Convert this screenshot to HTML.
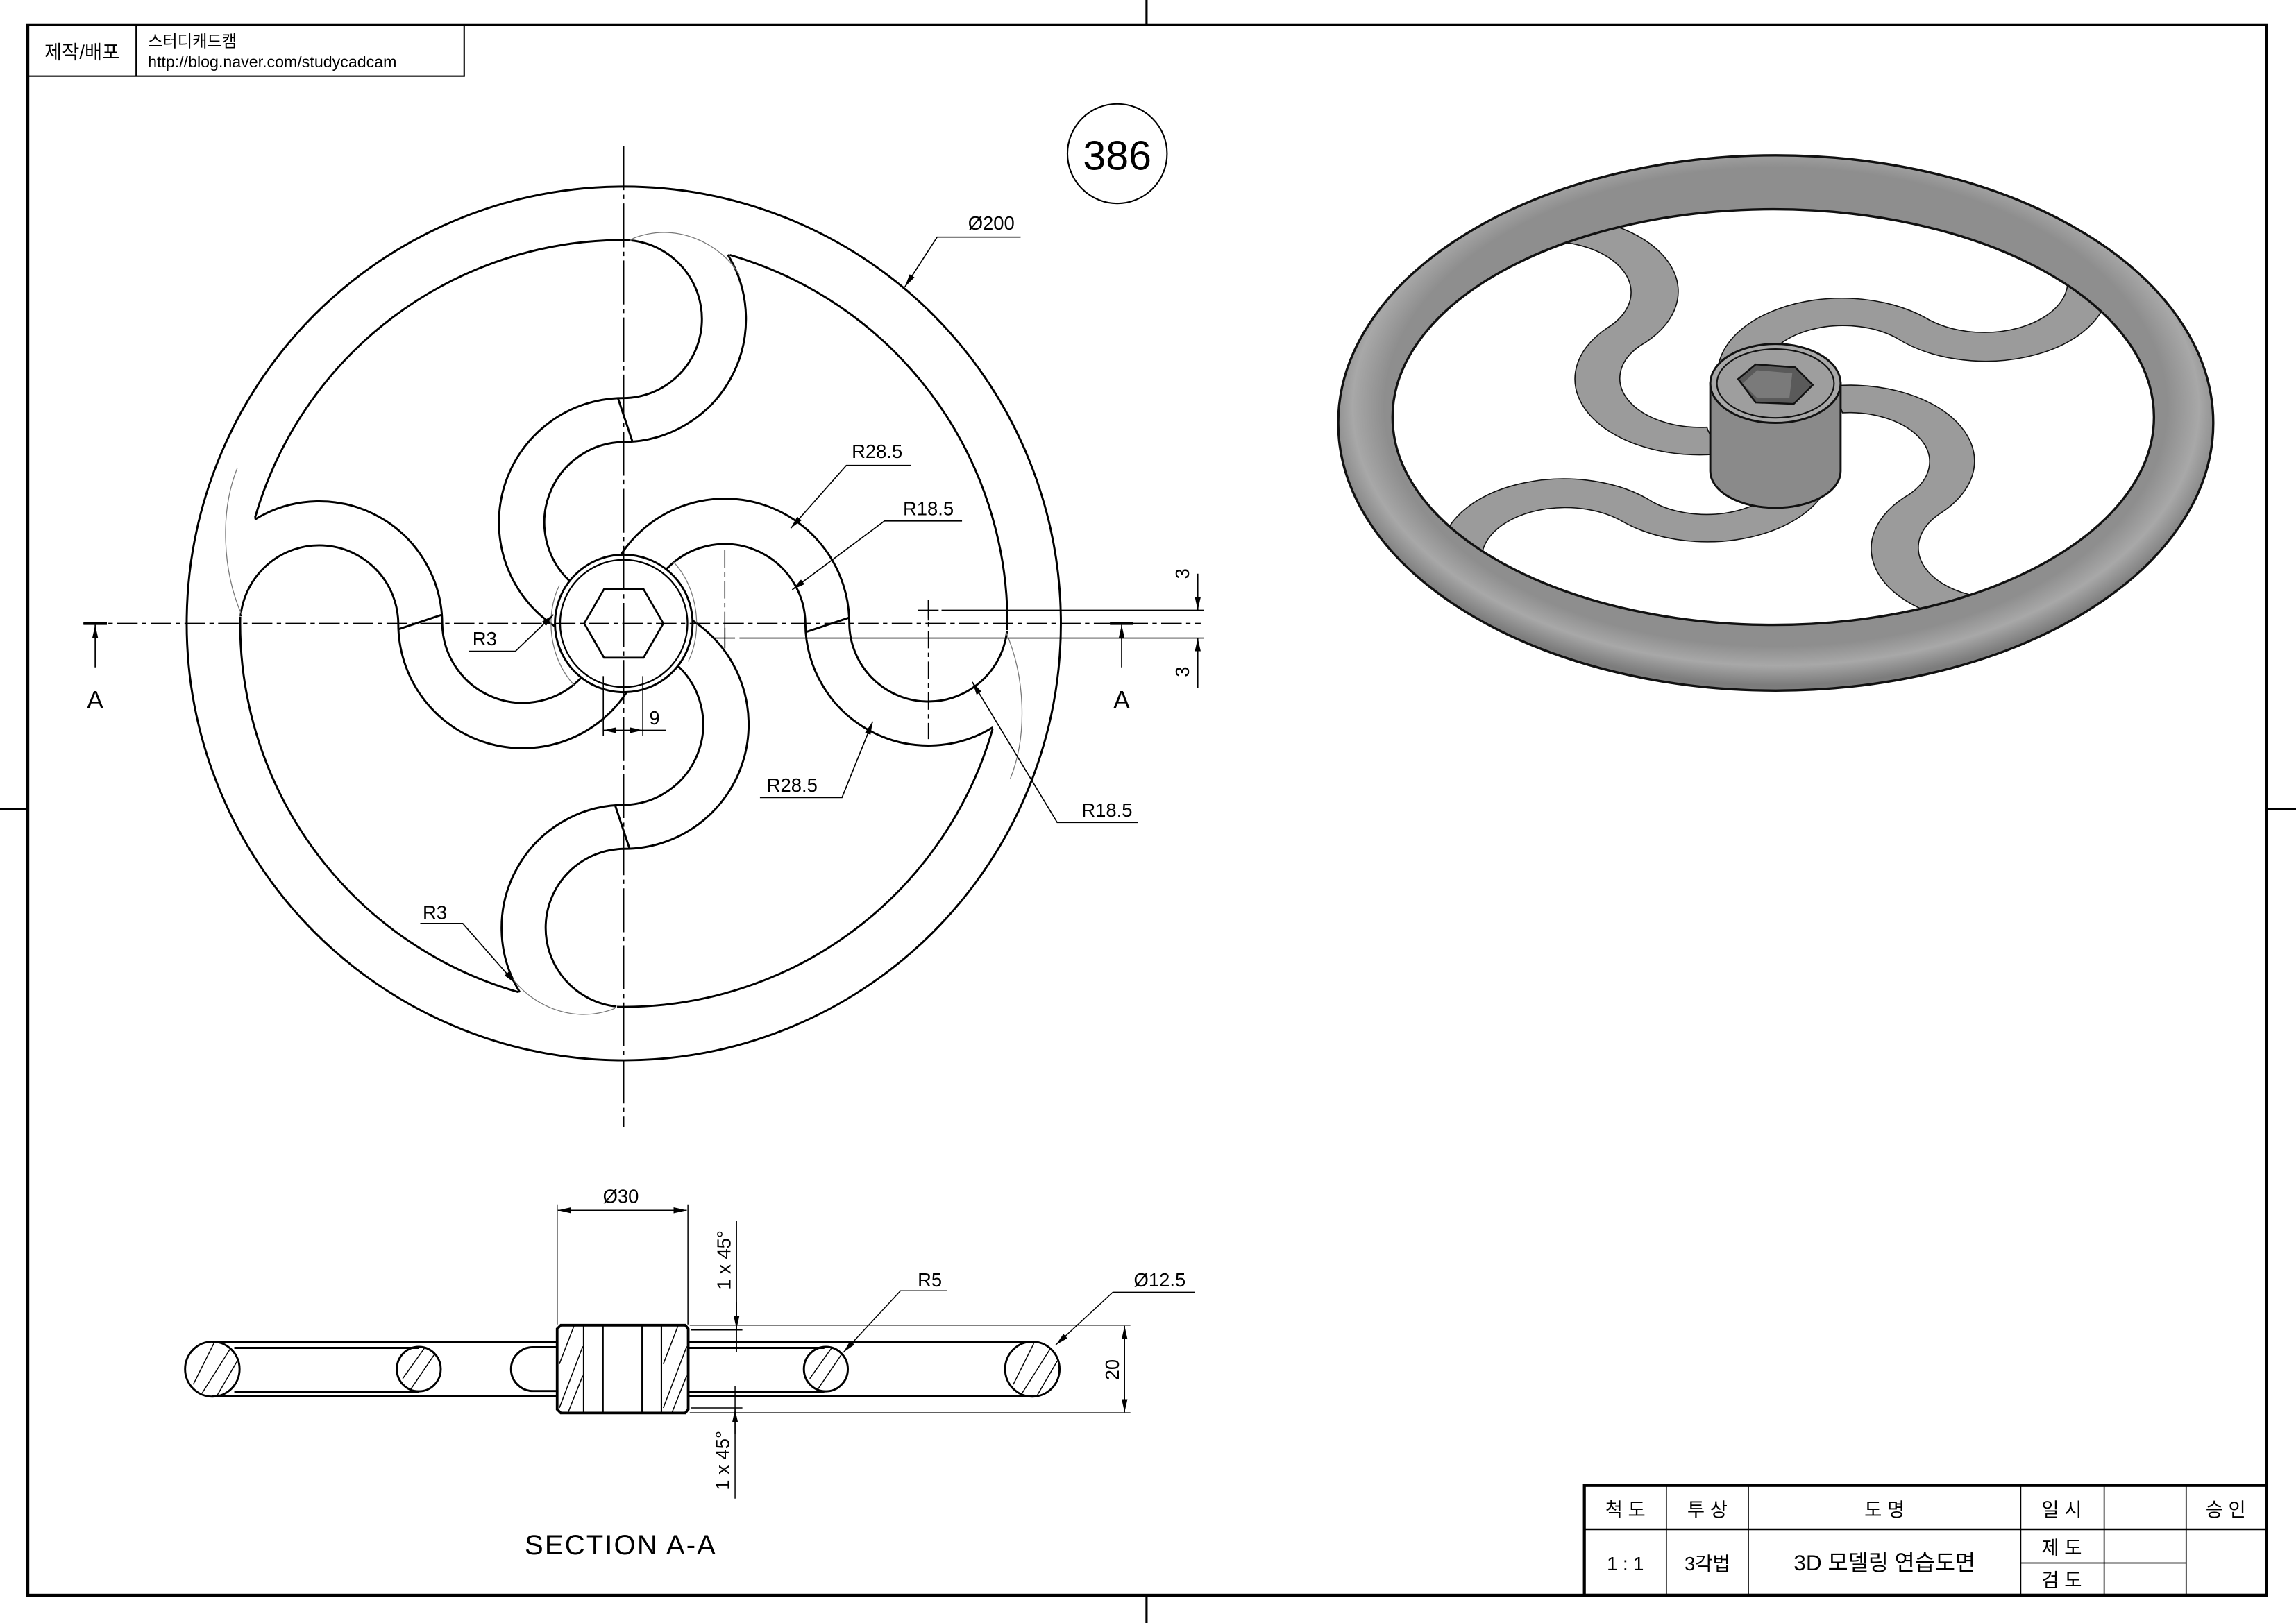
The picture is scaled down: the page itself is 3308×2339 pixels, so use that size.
<!DOCTYPE html>
<html><head><meta charset="utf-8"><style>
html,body{margin:0;padding:0;background:#fff;}
svg{display:block;}
text{font-family:"Liberation Sans","Noto Sans CJK KR",sans-serif;fill:#000;}
</style></head><body>
<svg width="3308" height="2339" viewBox="0 0 1568 1109" preserveAspectRatio="none" xmlns="http://www.w3.org/2000/svg">
<defs>
<marker id="ah" markerUnits="userSpaceOnUse" markerWidth="9" markerHeight="4" refX="9" refY="2" orient="auto-start-reverse"><path d="M0,0 L9,2 L0,4 z" fill="#000"/></marker>
<radialGradient id="rg" cx="0.5" cy="0.47" r="0.52"><stop offset="0.86" stop-color="#8e8e8e"/><stop offset="0.93" stop-color="#a8a8a8"/><stop offset="1" stop-color="#7c7c7c"/></radialGradient>
</defs>
<rect width="1568" height="1109" fill="#fff"/>
<rect x="19" y="17" width="1529" height="1073" fill="none" stroke="#000" stroke-width="2"/>
<g stroke="#000" stroke-width="1.5">
<line x1="783" y1="0" x2="783" y2="17"/><line x1="783" y1="1090" x2="783" y2="1109"/>
<line x1="0" y1="553" x2="19" y2="553"/><line x1="1548" y1="553" x2="1568" y2="553"/>
</g>
<rect x="19" y="17" width="298" height="35" fill="none" stroke="#000" stroke-width="1"/>
<line x1="93" y1="17" x2="93" y2="52" stroke="#000" stroke-width="1"/>
<text x="56" y="40" font-size="13" text-anchor="middle">제작/배포</text>
<text x="101" y="32" font-size="11">스터디캐드캠</text>
<text x="101" y="46" font-size="11">http://blog.naver.com/studycadcam</text>
<circle cx="763" cy="105" r="34" fill="none" stroke="#000" stroke-width="1"/>
<text x="763" y="116" font-size="28" text-anchor="middle">386</text>

<g fill="none" stroke="#000">
<circle cx="426" cy="426" r="298.5" stroke-width="1.4"/>
<circle cx="426" cy="426" r="262" stroke-width="1.4" stroke-dasharray="342.95 68.6" stroke-dashoffset="338.38"/>
<circle cx="426" cy="426" r="47" stroke-width="1.4"/>
<circle cx="426" cy="426" r="43.5" stroke-width="1.1"/>
<polygon points="399,426 412.5,402.6 439.5,402.6 453,426 439.5,449.4 412.5,449.4" stroke-width="1.3"/>
<g transform="translate(426,426)" stroke-width="1.4">
 <g id="sp"><path d="M-2,-47 A85,85 0 0 1 154,0 A54,54 0 0 0 261.7,5"/><path d="M29,-37 A55,55 0 0 1 124,0 A84,84 0 0 0 252,71"/><line x1="124" y1="6" x2="154" y2="-4"/></g>
 <use href="#sp" transform="rotate(-90)"/>
 <use href="#sp" transform="rotate(180)"/>
 <use href="#sp" transform="rotate(90)"/>
</g>
<g stroke="#777" stroke-width="0.6">
<path d="M432,163 C465,150 495,170 505,188"/>
<path d="M162,320 C150,350 152,390 165,420"/>
<path d="M420,689 C387,702 357,682 347,664"/>
<path d="M690,532 C702,502 700,462 687,432"/>
<path d="M382,400 C372,420 375,450 392,468"/>
<path d="M470,452 C480,432 477,402 460,384"/>
</g>
<line x1="426" y1="100" x2="426" y2="770" stroke-width="0.7" stroke-dasharray="30 3 3 3"/>
<line x1="57" y1="426" x2="820" y2="426" stroke-width="0.8" stroke-dasharray="14 3 3 3"/>
<line x1="495" y1="376" x2="495" y2="441" stroke-width="0.7" stroke-dasharray="12 3 3 3"/>
<line x1="634" y1="410" x2="634" y2="505" stroke-width="0.7" stroke-dasharray="12 3 3 3"/>
<g stroke-width="0.8">
<line x1="627" y1="417" x2="641" y2="417"/><line x1="634" y1="410" x2="634" y2="424"/>
<line x1="488" y1="436" x2="502" y2="436"/><line x1="495" y1="429" x2="495" y2="443"/>
<line x1="643" y1="417" x2="822" y2="417"/><line x1="505" y1="436" x2="822" y2="436"/>
<line x1="818" y1="392" x2="818" y2="417" marker-end="url(#ah)"/>
<line x1="818" y1="470" x2="818" y2="436" marker-end="url(#ah)"/>
<line x1="57" y1="426" x2="73" y2="426" stroke-width="2"/>
<line x1="65" y1="456" x2="65" y2="427" marker-end="url(#ah)"/>
<line x1="758" y1="426" x2="774" y2="426" stroke-width="2"/>
<line x1="766" y1="456" x2="766" y2="427" marker-end="url(#ah)"/>
<polyline points="697,162 640,162 618,196" marker-end="url(#ah)"/>
<polyline points="622,318 578,318 540,361" marker-end="url(#ah)"/>
<polyline points="657,356 604,356 541,403" marker-end="url(#ah)"/>
<polyline points="320,445 352,445 378,420" marker-end="url(#ah)"/>
<polyline points="519,545 575,545 596,493" marker-end="url(#ah)"/>
<polyline points="777,562 722,562 664,466" marker-end="url(#ah)"/>
<polyline points="287,631 316,631 352,672" marker-end="url(#ah)"/>
<line x1="412" y1="462" x2="412" y2="503"/><line x1="439" y1="462" x2="439" y2="503"/>
<line x1="412" y1="499" x2="439" y2="499" marker-start="url(#ah)" marker-end="url(#ah)"/>
<line x1="439" y1="499" x2="455" y2="499"/>
</g>
</g>
<g font-size="13" text-anchor="middle">
<text x="677" y="157">Ø200</text>
<text x="599" y="313">R28.5</text>
<text x="634" y="352">R18.5</text>
<text x="331" y="441">R3</text>
<text x="447" y="495">9</text>
<text x="541" y="541">R28.5</text>
<text x="756" y="558">R18.5</text>
<text x="297" y="628">R3</text>
<text transform="translate(812,392) rotate(-90)">3</text>
<text transform="translate(812,459) rotate(-90)">3</text>
</g>
<text x="65" y="484" font-size="17" text-anchor="middle">A</text>
<text x="766" y="484" font-size="17" text-anchor="middle">A</text>

<g fill="none" stroke="#000">
<g stroke-width="1.4">
<line x1="145" y1="917" x2="380" y2="917"/><line x1="145" y1="954" x2="380" y2="954"/>
<line x1="470" y1="917" x2="708" y2="917"/><line x1="470" y1="954" x2="708" y2="954"/>
<line x1="160" y1="921" x2="286" y2="921"/><line x1="160" y1="951" x2="286" y2="951"/>
<line x1="470" y1="921" x2="563" y2="921"/><line x1="470" y1="951" x2="563" y2="951"/>
<ellipse cx="145" cy="935.5" rx="18.6" ry="18.8"/>
<ellipse cx="286" cy="935.5" rx="15" ry="15.2"/>
<ellipse cx="564" cy="935.5" rx="15" ry="15.2"/>
<ellipse cx="705" cy="935.5" rx="18.6" ry="18.8"/>
<path d="M380,920.5 L364,920.5 A15,15 0 0 0 364,950.5 L380,950.5"/>
<path d="M383,905.5 L468,905.5 L470,908 L470,963 L468,965.5 L383,965.5 L380.5,963 L380.5,908 Z" stroke-width="1.8"/>
</g>
<g stroke-width="1">
<line x1="398.6" y1="905.5" x2="398.6" y2="965.5"/><line x1="411.8" y1="905.5" x2="411.8" y2="965.5"/>
<line x1="438.5" y1="905.5" x2="438.5" y2="965.5"/><line x1="451.7" y1="905.5" x2="451.7" y2="965.5"/>
</g>
<g stroke-width="0.7">
<line x1="382" y1="932" x2="392" y2="906"/><line x1="382" y1="962" x2="398" y2="920"/><line x1="388" y1="965" x2="398" y2="940"/>
<line x1="453" y1="932" x2="463" y2="906"/><line x1="453" y1="962" x2="469" y2="920"/><line x1="459" y1="965" x2="469" y2="940"/>
<line x1="132" y1="946" x2="146" y2="918"/><line x1="138" y1="952" x2="157" y2="922"/><line x1="148" y1="954" x2="162" y2="930"/>
<line x1="275" y1="942" x2="290" y2="921"/><line x1="280" y1="950" x2="297" y2="925"/>
<line x1="553" y1="942" x2="568" y2="921"/><line x1="558" y1="950" x2="575" y2="925"/>
<line x1="692" y1="946" x2="706" y2="918"/><line x1="698" y1="952" x2="717" y2="922"/><line x1="708" y1="954" x2="722" y2="930"/>
<line x1="380.5" y1="823" x2="380.5" y2="905"/><line x1="469.8" y1="823" x2="469.8" y2="905"/>
<line x1="381" y1="827" x2="469" y2="827" marker-start="url(#ah)" marker-end="url(#ah)"/>
<line x1="471" y1="905.5" x2="772" y2="905.5"/><line x1="471" y1="965.4" x2="772" y2="965.4"/>
<line x1="768" y1="906" x2="768" y2="965" marker-start="url(#ah)" marker-end="url(#ah)"/>
<line x1="503" y1="834" x2="503" y2="924"/>
<line x1="503" y1="890" x2="503" y2="908" marker-end="url(#ah)"/>
<line x1="472" y1="908.8" x2="507" y2="908.8"/>
<line x1="472" y1="962" x2="507" y2="962"/>
<line x1="502" y1="947" x2="502" y2="1024"/>
<line x1="502" y1="980" x2="502" y2="963" marker-end="url(#ah)"/>
<polyline points="647,882 615,882 576,924" marker-end="url(#ah)"/>
<polyline points="816,883 760,883 721,919" marker-end="url(#ah)"/>
</g>
</g>
<g font-size="13" text-anchor="middle">
<text x="424" y="822">Ø30</text>
<text x="635" y="879">R5</text>
<text x="792" y="879">Ø12.5</text>
<text transform="translate(499,861) rotate(-90)">1 x 45°</text>
<text transform="translate(498,998) rotate(-90)">1 x 45°</text>
<text transform="translate(764,936) rotate(-90)">20</text>
</g>
<text x="424" y="1062" font-size="19" text-anchor="middle" letter-spacing="1">SECTION A-A</text>

<!-- 3D VIEW: spokes first, ring over -->
<g transform="translate(1212,287) scale(1,0.61) rotate(-48)" fill="#9b9b9b" stroke="#111">
 <g id="s3"><path vector-effect="non-scaling-stroke" stroke-width="1.6" d="M-2,-47 A85,85 0 0 1 154,0 A54,54 0 0 0 268,5 A268,268 0 0 1 258,74 A84,84 0 0 1 124,0 A55,55 0 0 0 29,-37 A47,47 0 0 0 -2,-47 Z"/></g>
 <use href="#s3" transform="rotate(-90)"/>
 <use href="#s3" transform="rotate(180)"/>
 <use href="#s3" transform="rotate(90)"/>
</g>
<path fill="url(#rg)" fill-rule="evenodd" stroke="#111" stroke-width="1.6" d="M913.9,289 A298.8,182.8 0 1 0 1511.5,289 A298.8,182.8 0 1 0 913.9,289 Z M951,285 A260,142 0 1 0 1471,285 A260,142 0 1 0 951,285 Z"/>
<path d="M1168,262 L1168,322 A44.5,25 0 0 0 1257,322 L1257,262 Z" fill="#8a8a8a" stroke="#111" stroke-width="1.4"/>
<ellipse cx="1212.5" cy="262" rx="44.5" ry="27" fill="#a8a8a8" stroke="#111" stroke-width="1.4"/>
<ellipse cx="1212.5" cy="262" rx="40" ry="23.5" fill="#9e9e9e" stroke="#111" stroke-width="1"/>
<polygon points="1187,259 1199,249 1226,251 1238,263 1225,276 1199,275" fill="#5a5a5a" stroke="#111" stroke-width="1.2"/>
<polygon points="1190,262 1200,253 1224,255 1222,272 1200,272" fill="#7a7a7a"/>

<g fill="none" stroke="#000">
<rect x="1082" y="1015" width="466" height="75" stroke-width="2"/>
<line x1="1082" y1="1045" x2="1548" y2="1045" stroke-width="1.2"/>
<g stroke-width="0.8">
<line x1="1138" y1="1015" x2="1138" y2="1090"/><line x1="1194" y1="1015" x2="1194" y2="1090"/>
<line x1="1380" y1="1015" x2="1380" y2="1090"/><line x1="1437" y1="1015" x2="1437" y2="1090"/>
<line x1="1493" y1="1015" x2="1493" y2="1090"/><line x1="1380" y1="1068" x2="1493" y2="1068"/>
</g>
</g>
<g font-size="13" text-anchor="middle">
<text x="1110" y="1036">척  도</text>
<text x="1166" y="1036">투  상</text>
<text x="1287" y="1036">도        명</text>
<text x="1408" y="1036">일  시</text>
<text x="1520" y="1036">승  인</text>
<text x="1110" y="1073">1 : 1</text>
<text x="1166" y="1073">3각법</text>
<text x="1287" y="1073" font-size="15">3D 모델링 연습도면</text>
<text x="1408" y="1062">제  도</text>
<text x="1408" y="1084">검  도</text>
</g>
</svg>
</body></html>
